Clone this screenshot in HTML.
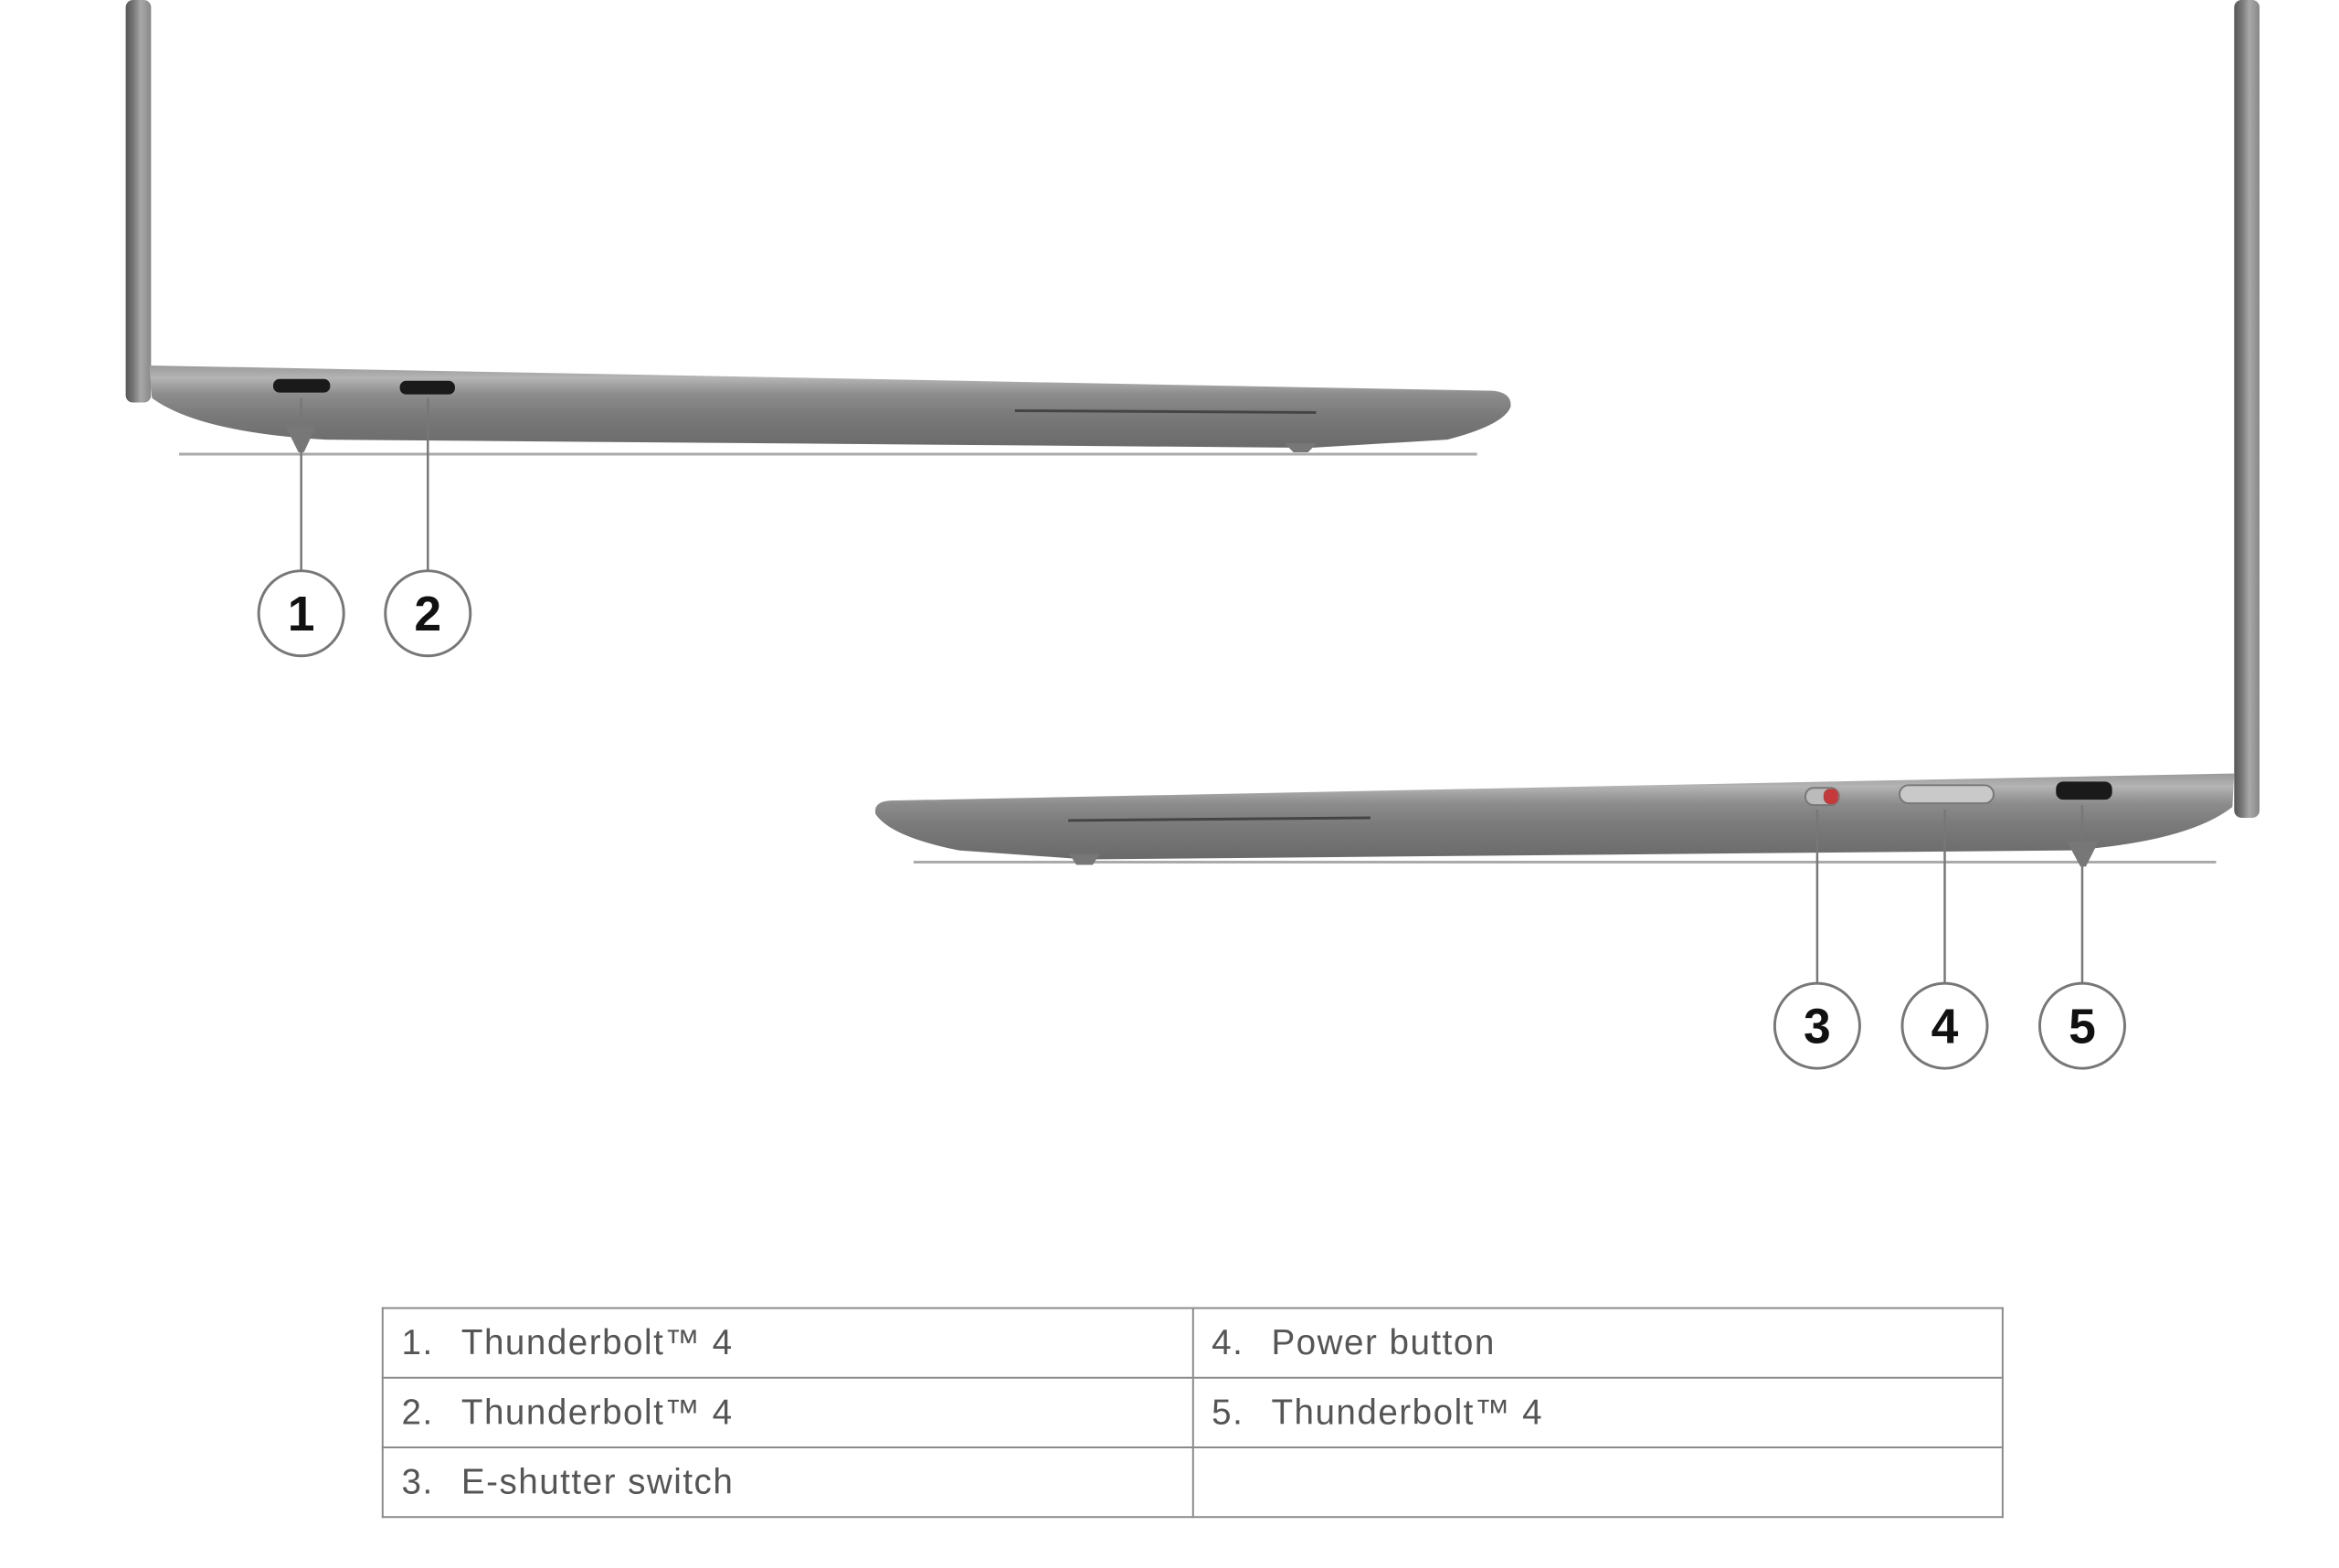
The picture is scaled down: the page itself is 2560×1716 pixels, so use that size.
<!DOCTYPE html>
<html><head><meta charset="utf-8"><style>
html,body{margin:0;padding:0;background:#fff;}
body{width:2560px;height:1716px;position:relative;overflow:hidden;font-family:"Liberation Sans",sans-serif;}
#w{position:absolute;left:0;top:0;width:2560px;height:1716px;transform:scale(0.99);transform-origin:0 0;}
table{position:absolute;left:422px;top:1445px;width:1793px;border-collapse:collapse;}
td{border:2px solid #8a8a8a;height:75px;padding:0 0 0 20px;font-size:39px;letter-spacing:1.5px;color:#555;width:50%;}
td span{display:inline-block;width:66px;}
</style></head><body><div id="w">
<svg width="2560" height="1716" style="position:absolute;left:0;top:0">
<defs>
<linearGradient id="g" x1="0" y1="0" x2="0" y2="1">
<stop offset="0" stop-color="#9a9a9a"/><stop offset="0.15" stop-color="#b4b4b4"/><stop offset="0.35" stop-color="#8c8c8c"/><stop offset="0.6" stop-color="#7a7a7a"/><stop offset="1" stop-color="#6a6a6a"/></linearGradient>
<linearGradient id="lid" x1="0" y1="0" x2="1" y2="0">
<stop offset="0" stop-color="#555"/><stop offset="0.3" stop-color="#777"/><stop offset="0.6" stop-color="#a8a8a8"/><stop offset="1" stop-color="#888"/></linearGradient>
</defs>
<rect x="139" y="0" width="28" height="445" rx="8" fill="url(#lid)"/>
<line x1="198" y1="502" x2="1633" y2="502" stroke="#aaa" stroke-width="3"/>
<path d="M165 404 L1650 432 Q1672 434 1670 450 Q1662 470 1600 486 L1450 495 L360 486 Q220 478 168 440 Z" fill="url(#g)"/>
<path d="M315 470 L350 470 L336 500 L330 500 Z" fill="#777"/>
<path d="M1420 490 L1456 490 L1446 500 L1430 500 Z" fill="#777"/>
<rect x="302" y="419" width="63" height="15" rx="7" fill="#1a1a1a"/>
<rect x="442" y="421" width="61" height="15" rx="7" fill="#1a1a1a"/>
<line x1="1122" y1="454" x2="1455" y2="456" stroke="#444" stroke-width="3"/>
<line x1="333" y1="440" x2="333" y2="630" stroke="#777" stroke-width="2.5"/>
<line x1="473" y1="440" x2="473" y2="630" stroke="#777" stroke-width="2.5"/>
<circle cx="333" cy="678" r="47" fill="#fff" stroke="#777" stroke-width="3"/>
<circle cx="473" cy="678" r="47" fill="#fff" stroke="#777" stroke-width="3"/>
<text x="333" y="697" font-size="54" font-weight="bold" text-anchor="middle" fill="#111">1</text>
<text x="473" y="697" font-size="54" font-weight="bold" text-anchor="middle" fill="#111">2</text>
<rect x="2470" y="0" width="28" height="904" rx="8" fill="url(#lid)"/>
<line x1="1010" y1="953" x2="2450" y2="953" stroke="#aaa" stroke-width="3"/>
<path d="M2470 855 L985 885 Q965 886 968 900 Q985 925 1060 940 L1200 950 L2290 940 Q2420 930 2468 892 Z" fill="url(#g)"/>
<path d="M1182 944 L1216 944 L1208 956 L1190 956 Z" fill="#777"/>
<path d="M2285 930 L2320 930 L2306 958 L2300 958 Z" fill="#777"/>
<line x1="1181" y1="907" x2="1515" y2="904" stroke="#444" stroke-width="3"/>
<rect x="1996" y="871" width="37" height="19" rx="9" fill="#bbb" stroke="#777" stroke-width="2"/>
<rect x="2016" y="872" width="16" height="17" rx="7" fill="#c43a3a"/>
<rect x="2100" y="868" width="104" height="20" rx="10" fill="#c9c9c9" stroke="#777" stroke-width="2"/>
<rect x="2273" y="864" width="62" height="20" rx="8" fill="#1a1a1a"/>
<line x1="2009" y1="895" x2="2009" y2="1086" stroke="#777" stroke-width="2.5"/>
<line x1="2150" y1="895" x2="2150" y2="1086" stroke="#777" stroke-width="2.5"/>
<line x1="2302" y1="890" x2="2302" y2="1086" stroke="#777" stroke-width="2.5"/>
<circle cx="2009" cy="1134" r="47" fill="#fff" stroke="#777" stroke-width="3"/>
<circle cx="2150" cy="1134" r="47" fill="#fff" stroke="#777" stroke-width="3"/>
<circle cx="2302" cy="1134" r="47" fill="#fff" stroke="#777" stroke-width="3"/>
<text x="2009" y="1153" font-size="54" font-weight="bold" text-anchor="middle" fill="#111">3</text>
<text x="2150" y="1153" font-size="54" font-weight="bold" text-anchor="middle" fill="#111">4</text>
<text x="2302" y="1153" font-size="54" font-weight="bold" text-anchor="middle" fill="#111">5</text>
</svg>
<table>
<tr><td><span>1.</span>Thunderbolt™ 4</td><td><span>4.</span>Power button</td></tr>
<tr><td><span>2.</span>Thunderbolt™ 4</td><td><span>5.</span>Thunderbolt™ 4</td></tr>
<tr><td><span>3.</span>E-shutter switch</td><td></td></tr>
</table>
</div></body></html>
